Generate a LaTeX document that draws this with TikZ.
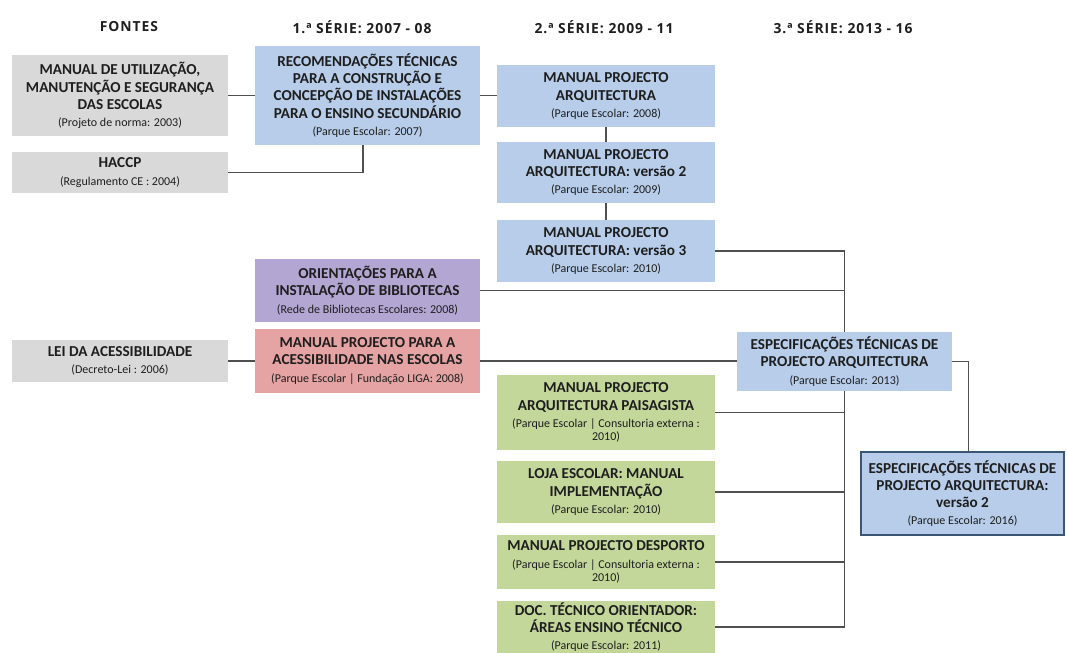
\documentclass[tikz,border=0pt]{standalone}
\usepackage{fontspec}
\setmainfont{Carlito}
\newfontfamily\hdrfont[LetterSpace=7]{Open Sans}
\usetikzlibrary{positioning}

\definecolor{boxgray}{HTML}{D9D9D9}
\definecolor{boxblue}{HTML}{B7CDEA}
\definecolor{boxpurple}{HTML}{B4A6D2}
\definecolor{boxred}{HTML}{E6A3A3}
\definecolor{boxgreen}{HTML}{C4D79B}
\definecolor{linkgray}{HTML}{505050}
\definecolor{edgeblue}{HTML}{3B5675}
\definecolor{ink}{HTML}{1E1E1E}

% box given by its corners in pixel units: name, x1, y1, x2, y2, style, text
\newcommand\bx[7]{%
  \node[card,#6,minimum width={(#4-#2)*0.75pt},minimum height={(#5-#3)*0.75pt}]
    (#1) at ({(#2+#4)/2},{(#3+#5)/2}) {#7};}
\newcommand\subl[1]{{\fontsize{9}{10}\selectfont\mdseries #1}}

\tikzset{
  card/.style={inner sep=0pt,outer sep=0pt,align=center,text=ink,
    font=\fontsize{11.4}{12.9}\selectfont\bfseries},
  grayc/.style={fill=boxgray},
  bluec/.style={fill=boxblue},
  purplec/.style={fill=boxpurple},
  redc/.style={fill=boxred},
  greenc/.style={fill=boxgreen},
  finalc/.style={fill=boxblue,draw=edgeblue,line width=1.4pt},
  head/.style={text=ink,font=\hdrfont\bfseries\fontsize{10.4}{12}\selectfont},
  link/.style={draw=linkgray,line width=1.2pt}
}

\begin{document}
\begin{tikzpicture}[x=0.75pt,y=-0.75pt]
\useasboundingbox (0,0) rectangle (1067,653);
\fill[white] (0,0) rectangle (1067,653);

% column headings
\node[head] (h0) at (129,27) {FONTES};
\node[head] (h1) at (362,27) {1.ª SÉRIE: 2007 - 08};
\node[head] (h2) at (604,27) {2.ª SÉRIE: 2009 - 11};
\node[head] (h3) at (843,27) {3.ª SÉRIE: 2013 - 16};

% sources
\bx{src1}{12}{55}{228}{136}{grayc}{MANUAL DE UTILIZAÇÃO,\\MANUTENÇÃO E SEGURANÇA\\DAS ESCOLAS\\\subl{(Projeto de norma: 2003)}}
\bx{src2}{12}{152}{228}{193}{grayc}{HACCP\\\subl{(Regulamento CE : 2004)}}
\bx{src3}{12}{340}{228}{382}{grayc}{LEI DA ACESSIBILIDADE\\\subl{(Decreto-Lei : 2006)}}

% first series
\bx{rec}{255}{46}{480}{145}{bluec}{RECOMENDAÇÕES TÉCNICAS\\PARA A CONSTRUÇÃO E\\CONCEPÇÃO DE INSTALAÇÕES\\PARA O ENSINO SECUNDÁRIO\\\subl{(Parque Escolar: 2007)}}
\bx{bib}{255}{259}{480}{322}{purplec}{ORIENTAÇÕES PARA A\\INSTALAÇÃO DE BIBLIOTECAS\\\subl{(Rede de Bibliotecas Escolares: 2008)}}
\bx{ace}{255}{329}{480}{393}{redc}{MANUAL PROJECTO PARA A\\ACESSIBILIDADE NAS ESCOLAS\\\subl{(Parque Escolar | Fundação LIGA: 2008)}}

% second series
\bx{mpa}{497}{65}{715}{127}{bluec}{MANUAL PROJECTO\\ARQUITECTURA\\\subl{(Parque Escolar: 2008)}}
\bx{mpb}{497}{142}{715}{203}{bluec}{MANUAL PROJECTO\\ARQUITECTURA: versão 2\\\subl{(Parque Escolar: 2009)}}
\bx{mpc}{497}{220}{715}{282}{bluec}{MANUAL PROJECTO\\ARQUITECTURA: versão 3\\\subl{(Parque Escolar: 2010)}}
\bx{pai}{497}{375}{715}{450}{greenc}{MANUAL PROJECTO\\ARQUITECTURA PAISAGISTA\\\subl{(Parque Escolar | Consultoria externa :}\\[-3pt]\subl{2010)}}
\bx{loj}{497}{461}{715}{523}{greenc}{LOJA ESCOLAR: MANUAL\\IMPLEMENTAÇÃO\\\subl{(Parque Escolar: 2010)}}
\bx{des}{497}{535}{715}{589}{greenc}{MANUAL PROJECTO DESPORTO\\\subl{(Parque Escolar | Consultoria externa :}\\[-3pt]\subl{2010)}}
\bx{doc}{497}{601}{715}{653}{greenc}{DOC. TÉCNICO ORIENTADOR:\\ÁREAS ENSINO TÉCNICO\\\subl{(Parque Escolar: 2011)}}

% third series
\bx{esp}{737}{332}{952}{391}{bluec}{ESPECIFICAÇÕES TÉCNICAS DE\\PROJECTO ARQUITECTURA\\\subl{(Parque Escolar: 2013)}}
\bx{espb}{861}{452}{1064}{535}{finalc}{ESPECIFICAÇÕES TÉCNICAS DE\\PROJECTO ARQUITECTURA:\\versão 2\\\subl{(Parque Escolar: 2016)}}

% connectors
\draw[link] (src1.east) -- (rec.west);
\draw[link] (src2.east) -| ([xshift=-3.4pt]rec.south);
\draw[link] (src3.east) -- (ace.west);
\draw[link] (rec.east) -- (rec.east -| mpa.west);
\draw[link] (mpa.south) -- (mpb.north);
\draw[link] (mpb.south) -- (mpc.north);
\draw[link] (mpc.east) -| (esp.north);
\draw[link] (bib.east) -- (bib.east -| esp.north);
\draw[link] (ace.east) -- (ace.east -| esp.west);
\draw[link] (esp.south) -- (esp.south |- doc.east) -- (doc.east);
\draw[link] (pai.east) -- (pai.east -| esp.south);
\draw[link] (loj.east) -- (loj.east -| esp.south);
\draw[link] (des.east) -- (des.east -| esp.south);
\draw[link] (esp.east) -| ([xshift=4.5pt]espb.north);
\end{tikzpicture}
\end{document}
